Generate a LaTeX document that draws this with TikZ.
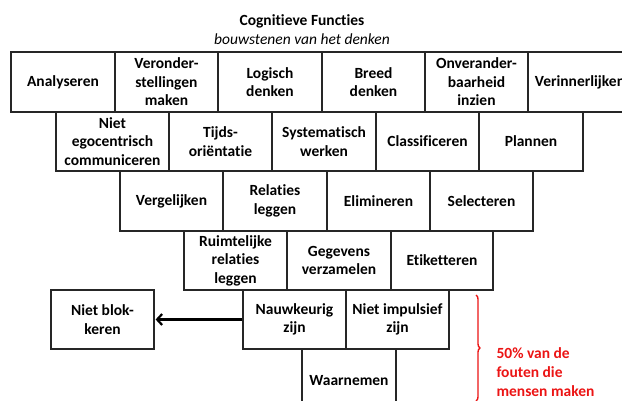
\documentclass[tikz,border=0pt]{standalone}
\usepackage{fontspec}
\setmainfont{Carlito}[Ligatures={NoCommon,NoRare,NoContextual}]
\usetikzlibrary{arrows.meta,decorations.pathreplacing}
\definecolor{redtxt}{RGB}{235,20,20}
\tikzset{
  cell/.style={draw=black!85, line width=1.3pt, inner sep=0pt, align=center,
    font=\fontsize{15.5}{18.5}\selectfont\bfseries},
  arr/.style={draw=black, line width=2.2pt, -{Straight Barb[length=5pt,width=11pt]}},
}
\newcommand{\cellbox}[6]{% name, x1, y1, x2, y2, text
  \node[cell, minimum width={(#4-#2)*1pt}, minimum height={(#5-#3)*1pt}]
    (#1) at ({(#2+#4)/2}, {-(#3+#5)/2}) {#6};}
\begin{document}
\begin{tikzpicture}[x=1pt,y=1pt]
\useasboundingbox (0,0) rectangle (622,-401);
\clip (0,0) rectangle (622,-401);
\node[font=\fontsize{15.5}{18.5}\selectfont\bfseries] (title) at (302,-21) {Cognitieve Func\kern0pt ties};
\node[font=\fontsize{15.5}{18.5}\selectfont\itshape] (sub) at (302,-39) {bouwstenen van het denken};
% row 1
\cellbox{a1}{11}{52}{115}{112}{Analyseren}
\cellbox{a2}{115}{52}{218}{112}{Veronder-\\stellingen\\maken}
\cellbox{a3}{218}{52}{322}{112}{Logisch\\denken}
\cellbox{a4}{322}{52}{425}{112}{Breed\\denken}
\cellbox{a5}{425}{52}{528}{112}{Onverander-\\baarheid\\inzien}
\cellbox{a6}{528}{52}{632}{112}{Verinnerlijken}
% row 2
\cellbox{b1}{56}{112}{169}{171}{Niet\\egocentrisch\\communiceren}
\cellbox{b2}{169}{112}{272}{171}{Tijds-\\ori\"entatie}
\cellbox{b3}{272}{112}{376}{171}{Systematisch\\werken}
\cellbox{b4}{376}{112}{479}{171}{Classif\kern0pt iceren}
\cellbox{b5}{479}{112}{583}{171}{Plannen}
% row 3
\cellbox{c1}{120}{171}{223}{231}{Vergelijken}
\cellbox{c2}{223}{171}{327}{231}{Relaties\\leggen}
\cellbox{c3}{327}{171}{430}{231}{Elimineren}
\cellbox{c4}{430}{171}{533}{231}{Selecteren}
% row 4
\cellbox{d1}{184}{231}{287}{290}{Ruimtelijke\\relaties\\leggen}
\cellbox{d2}{287}{231}{391}{290}{Gegevens\\verzamelen}
\cellbox{d3}{391}{231}{493}{290}{Etiketteren}
% row 5
\cellbox{e1}{243}{290}{346}{349}{Nauwkeurig\\zijn}
\cellbox{e2}{346}{290}{449}{349}{Niet impulsief\\zijn}
% row 6
\cellbox{f1}{302}{349}{396}{412}{Waarnemen}
% side
\cellbox{nb}{51}{290}{154}{349}{Niet blok-\\keren}
\draw[arr] (e1.west) -- ([xshift=1pt]nb.east);
% brace
\coordinate (bt) at (476,-295);
\coordinate (bb) at (476,-401);
\draw[redtxt, line width=1.4pt, decorate, decoration={brace, amplitude=4pt}] (bt) -- (bb);
\node[anchor=west, align=left, text=redtxt, font=\fontsize{15.5}{18.8}\selectfont\bfseries] (note) at (493,-372) {50\% van de\\fouten die\\mensen maken};
\end{tikzpicture}
\end{document}
